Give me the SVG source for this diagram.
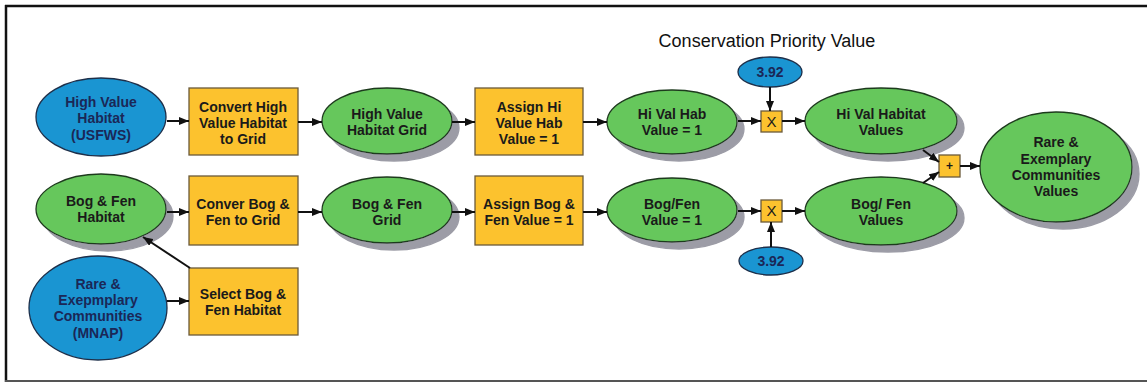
<svg xmlns="http://www.w3.org/2000/svg" width="1147" height="383" viewBox="0 0 1147 383">
<style>
.t{font-family:"Liberation Sans",Arial,sans-serif;font-size:14px;font-weight:bold;fill:#1a1a1a;text-anchor:middle}
.tb{font-family:"Liberation Sans",Arial,sans-serif;font-size:14px;font-weight:bold;fill:#1b2757;text-anchor:middle}
.g{fill:#66c75c;stroke:#1f3a1f;stroke-width:1.3;filter:url(#ds)}
.b{fill:#1a95d2;stroke:#1d2f4a;stroke-width:1.3}
.y{fill:#fcc22e;stroke:#6b5a3a;stroke-width:1.3}
.c{stroke:#111;stroke-width:2;fill:none;marker-end:url(#ah)}
</style>
<defs>
<marker id="ah" markerWidth="10" markerHeight="8" refX="10" refY="4" orient="auto" markerUnits="userSpaceOnUse">
<path d="M0,0 L10,4 L0,8 Z" fill="#111"/>
</marker>
<filter id="ds" x="-10%" y="-10%" width="130%" height="140%">
<feOffset in="SourceAlpha" dx="7" dy="7" result="o"/>
<feFlood flood-color="#9c9ca6" result="f"/>
<feComposite in="f" in2="o" operator="in" result="s"/>
<feMerge><feMergeNode in="s"/><feMergeNode in="SourceGraphic"/></feMerge>
</filter>
</defs>
<rect width="1147" height="383" fill="#fff"/>
<line x1="5" y1="6" x2="1147" y2="6" stroke="#111" stroke-width="2.5"/>
<line x1="6" y1="5" x2="6" y2="382" stroke="#111" stroke-width="2.5"/>
<line x1="5" y1="381" x2="1147" y2="381" stroke="#555" stroke-width="2"/>
<text x="767" y="47" style="font-family:'Liberation Sans',Arial,sans-serif;font-size:18px;fill:#111;text-anchor:middle">Conservation Priority Value</text>

<g id="n_hvh">
<ellipse class="b" cx="101" cy="117" rx="65" ry="39"/>
<text class="tb" x="101" y="107">High Value</text>
<text class="tb" x="101" y="123">Habitat</text>
<text class="tb" x="101" y="140">(USFWS)</text>
</g>
<g id="n_convhvh">
<rect class="y" x="189" y="88" width="109" height="67"/>
<text class="t" x="243" y="112">Convert High</text>
<text class="t" x="243" y="128">Value Habitat</text>
<text class="t" x="243" y="144">to Grid</text>
</g>
<g id="n_hvhgrid">
<ellipse class="g" cx="387" cy="121" rx="65" ry="33"/>
<text class="t" x="387" y="119">High Value</text>
<text class="t" x="387" y="135">Habitat Grid</text>
</g>
<g id="n_assignhi">
<rect class="y" x="475" y="88" width="108" height="67"/>
<text class="t" x="529" y="112">Assign Hi</text>
<text class="t" x="529" y="128">Value Hab</text>
<text class="t" x="529" y="144">Value = 1</text>
</g>
<g id="n_hivalhab">
<ellipse class="g" cx="672" cy="122" rx="65" ry="32"/>
<text class="t" x="672" y="119">Hi Val Hab</text>
<text class="t" x="672" y="135">Value = 1</text>
</g>
<g id="n_const1">
<ellipse class="b" cx="770" cy="72" rx="32" ry="15"/>
<text class="tb" x="770" y="77">3.92</text>
</g>
<g id="n_mul1">
<rect class="y" x="761" y="111" width="21" height="21"/>
<text class="t" x="771.5" y="127" style="font-size:15px;font-weight:normal">X</text>
</g>
<g id="n_hivalvalues">
<ellipse class="g" cx="881" cy="121" rx="76" ry="33"/>
<text class="t" x="881" y="119">Hi Val Habitat</text>
<text class="t" x="881" y="135">Values</text>
</g>
<g id="n_plus">
<rect class="y" x="939" y="155" width="21" height="22"/>
<text class="t" x="949.5" y="170" style="font-size:12px">+</text>
</g>
<g id="n_rare_values">
<ellipse class="g" cx="1056" cy="167" rx="76" ry="55"/>
<text class="t" x="1056" y="147">Rare &amp;</text>
<text class="t" x="1056" y="164">Exemplary</text>
<text class="t" x="1056" y="180">Communities</text>
<text class="t" x="1056" y="196">Values</text>
</g>

<g id="n_bogfen">
<ellipse class="g" cx="101" cy="209" rx="65" ry="35"/>
<text class="t" x="101" y="206">Bog &amp; Fen</text>
<text class="t" x="101" y="222">Habitat</text>
</g>
<g id="n_convbog">
<rect class="y" x="189" y="176" width="109" height="69"/>
<text class="t" x="243" y="209">Conver Bog &amp;</text>
<text class="t" x="243" y="225">Fen to Grid</text>
</g>
<g id="n_bogfengrid">
<ellipse class="g" cx="387" cy="210" rx="65" ry="33"/>
<text class="t" x="387" y="209">Bog &amp; Fen</text>
<text class="t" x="387" y="225">Grid</text>
</g>
<g id="n_assignbog">
<rect class="y" x="475" y="176" width="108" height="69"/>
<text class="t" x="529" y="209">Assign Bog &amp;</text>
<text class="t" x="529" y="225">Fen Value = 1</text>
</g>
<g id="n_bogfenval">
<ellipse class="g" cx="672" cy="210" rx="65" ry="32"/>
<text class="t" x="672" y="209">Bog/Fen</text>
<text class="t" x="672" y="225">Value = 1</text>
</g>
<g id="n_mul2">
<rect class="y" x="761" y="200" width="21" height="22"/>
<text class="t" x="771.5" y="216" style="font-size:15px;font-weight:normal">X</text>
</g>
<g id="n_const2">
<ellipse class="b" cx="771" cy="261" rx="32" ry="14"/>
<text class="tb" x="771" y="266">3.92</text>
</g>
<g id="n_bogfenvalues">
<ellipse class="g" cx="881" cy="211" rx="76" ry="34"/>
<text class="t" x="881" y="209">Bog/ Fen</text>
<text class="t" x="881" y="225">Values</text>
</g>
<g id="n_rare_mnap">
<ellipse class="b" cx="98" cy="308" rx="69" ry="52"/>
<text class="tb" x="98" y="289">Rare &amp;</text>
<text class="tb" x="98" y="305">Exepmplary</text>
<text class="tb" x="98" y="321">Communities</text>
<text class="tb" x="98" y="338">(MNAP)</text>
</g>
<g id="n_select">
<rect class="y" x="189" y="268" width="109" height="67"/>
<text class="t" x="243" y="299">Select Bog &amp;</text>
<text class="t" x="243" y="315">Fen Habitat</text>
</g>

<g id="connectors">
<line class="c" x1="167" y1="121" x2="189" y2="121"/>
<line class="c" x1="298" y1="122" x2="322" y2="122"/>
<line class="c" x1="452" y1="122" x2="475" y2="122"/>
<line class="c" x1="583" y1="122" x2="607" y2="122"/>
<line class="c" x1="738" y1="121" x2="761" y2="121"/>
<line class="c" x1="782" y1="121" x2="805" y2="121"/>
<line class="c" x1="770" y1="87" x2="770" y2="111"/>
<line class="c" x1="167" y1="212" x2="189" y2="212"/>
<line class="c" x1="298" y1="212" x2="322" y2="212"/>
<line class="c" x1="452" y1="212" x2="475" y2="212"/>
<line class="c" x1="583" y1="212" x2="607" y2="212"/>
<line class="c" x1="738" y1="211" x2="761" y2="211"/>
<line class="c" x1="782" y1="211" x2="805" y2="211"/>
<line class="c" x1="771" y1="247" x2="771" y2="222"/>
<line class="c" x1="167" y1="301" x2="189" y2="301"/>
<line class="c" x1="190" y1="268" x2="143" y2="237"/>
<line class="c" x1="923" y1="150" x2="939" y2="162"/>
<line class="c" x1="923" y1="183" x2="939" y2="172"/>
<line class="c" x1="960" y1="166" x2="980" y2="166"/>
</g>
</svg>
